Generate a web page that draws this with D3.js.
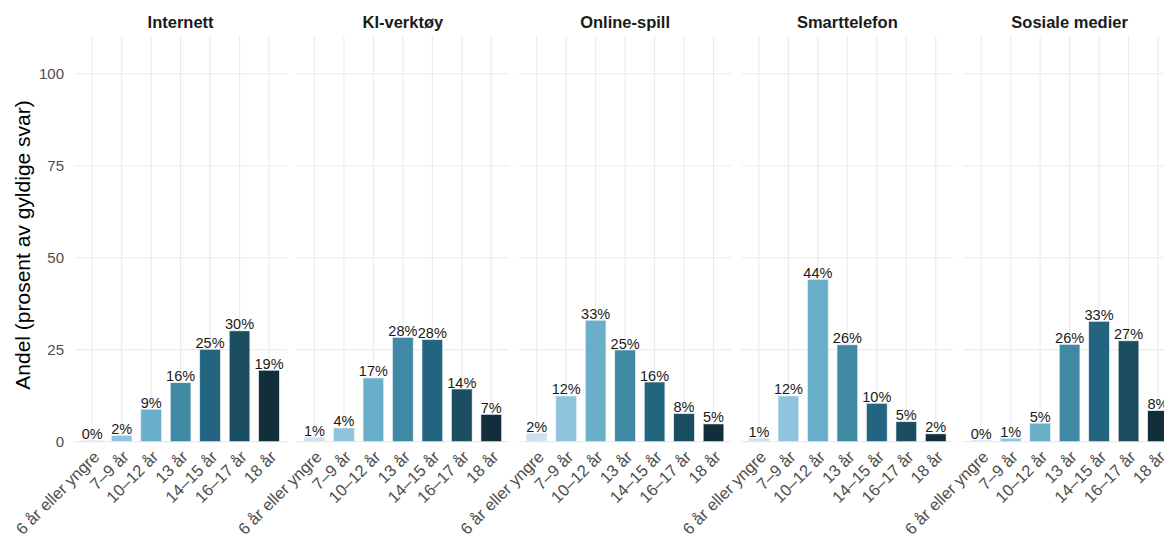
<!DOCTYPE html>
<html>
<head>
<meta charset="utf-8">
<script src="https://cdn.jsdelivr.net/npm/d3@7"></script>
<style>
  html, body { margin: 0; padding: 0; background: #ffffff; overflow: hidden; }
  svg { display: block; font-family: "Liberation Sans", Arial, sans-serif; }
</style>
</head>
<body>
<svg id="chart" width="1164" height="537"></svg>
<script>
// ---- Data ----
const panels = ["Internett", "KI-verktøy", "Online-spill", "Smarttelefon", "Sosiale medier"];
const categories = ["6 år eller yngre", "7–9 år", "10–12 år", "13 år", "14–15 år", "16–17 år", "18 år"];
const internett    = [0.3, 1.7, 8.8, 16.0, 25.1, 30.1, 19.4];
const kiVerktoy    = [1.2, 3.7, 17.3, 28.3, 27.7, 14.3, 7.4];
const onlineSpill  = [2.3, 12.4, 33.0, 24.9, 16.2, 7.6, 4.8];
const smarttelefon = [0.9, 12.4, 44.1, 26.3, 10.4, 5.4, 2.1];
const sosialeMedier= [0.4, 0.9, 5.0, 26.4, 32.7, 27.4, 8.4];
const labelsInternett    = ["0%", "2%", "9%", "16%", "25%", "30%", "19%"];
const labelsKiVerktoy    = ["1%", "4%", "17%", "28%", "28%", "14%", "7%"];
const labelsOnlineSpill  = ["2%", "12%", "33%", "25%", "16%", "8%", "5%"];
const labelsSmarttelefon = ["1%", "12%", "44%", "26%", "10%", "5%", "2%"];
const labelsSosialeMedier= ["0%", "1%", "5%", "26%", "33%", "27%", "8%"];
const yTicks = [0, 25, 50, 75, 100];
const yTitle = "Andel (prosent av gyldige svar)";
const barColors = ["#cfe1ee", "#8ec4dd", "#6aafca", "#3f89a5", "#236580", "#1c4e62", "#122e3b"];

const seriesValues = [internett, kiVerktoy, onlineSpill, smarttelefon, sosialeMedier];
const seriesLabels = [labelsInternett, labelsKiVerktoy, labelsOnlineSpill, labelsSmarttelefon, labelsSosialeMedier];

// ---- Layout ----
const svg = d3.select("#chart");
const panelX0 = 74.5, panelW = 212.2, panelStep = 222.25;
const panelTop = 36.1, zeroY = 441.6;

const y = d3.scaleLinear().domain([0, 110.25]).range([zeroY, panelTop]);
const x = d3.scaleBand().domain(categories).range([0, panelW]).paddingInner(0.3).paddingOuter(0.25);
const color = d3.scaleOrdinal().domain(categories).range(barColors);

// y axis title
svg.append("text")
  .attr("transform", `translate(30,245) rotate(-90)`)
  .attr("text-anchor", "middle")
  .attr("font-size", 21)
  .attr("fill", "#000")
  .text(yTitle);

// y tick labels
svg.append("g").selectAll("text").data(yTicks).join("text")
  .attr("x", 64)
  .attr("y", d => y(d))
  .attr("dy", "0.36em")
  .attr("text-anchor", "end")
  .attr("font-size", 15)
  .attr("fill", "#4d4d4d")
  .text(d => d);

panels.forEach((name, pi) => {
  const g = svg.append("g").attr("transform", `translate(${panelX0 + pi * panelStep},0)`);
  const vals = seriesValues[pi];
  const labs = seriesLabels[pi];
  const data = categories.map((c, i) => ({ c, v: vals[i], l: labs[i] }));

  // grid
  g.append("g").selectAll("line").data(yTicks).join("line")
    .attr("x1", 0).attr("x2", panelW)
    .attr("y1", d => y(d)).attr("y2", d => y(d))
    .attr("stroke", "#ebebeb").attr("stroke-width", 1.1);
  g.append("g").selectAll("line").data(categories).join("line")
    .attr("x1", d => x(d) + x.bandwidth() / 2).attr("x2", d => x(d) + x.bandwidth() / 2)
    .attr("y1", zeroY + 1.5).attr("y2", panelTop)
    .attr("stroke", "#ebebeb").attr("stroke-width", 1.1);

  // strip title
  g.append("text")
    .attr("x", panelW / 2).attr("y", 28)
    .attr("text-anchor", "middle")
    .attr("font-size", 16.5).attr("font-weight", "bold")
    .attr("fill", "#1a1a1a")
    .text(name);

  // bars
  g.append("g").selectAll("rect").data(data).join("rect")
    .attr("x", d => x(d.c))
    .attr("width", x.bandwidth())
    .attr("y", d => y(d.v))
    .attr("height", d => y(0) - y(d.v))
    .attr("fill", d => color(d.c))
    .attr("stroke", "#e8eef2").attr("stroke-width", 0.6);

  // value labels
  g.append("g").selectAll("text").data(data).join("text")
    .attr("x", d => x(d.c) + x.bandwidth() / 2)
    .attr("y", d => y(d.v) - 1.5)
    .attr("text-anchor", "middle")
    .attr("font-size", 14.5)
    .attr("fill", "#1a1a1a")
    .text(d => d.l);

  // x tick labels
  g.append("g").selectAll("text").data(categories).join("text")
    .attr("transform", d => `translate(${x(d) + x.bandwidth() / 2},${zeroY + 8}) rotate(-45)`)
    .attr("text-anchor", "end")
    .attr("dy", "0.71em")
    .attr("font-size", 16.5)
    .attr("fill", "#4d4d4d")
    .text(d => d);
});
</script>
</body>
</html>
